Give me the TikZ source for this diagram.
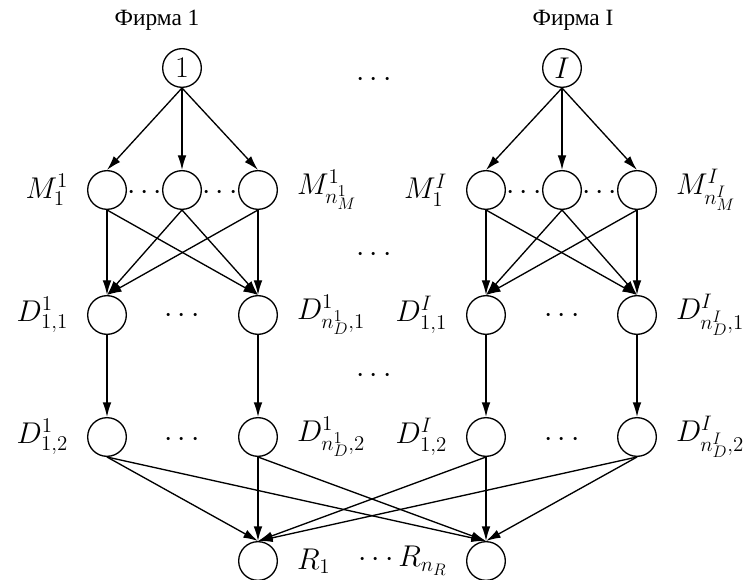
\RequirePackage{fix-cm}
\documentclass[tikz,border=0pt]{standalone}
\usepackage{fontspec}
\newfontfamily\firmfont{Liberation Serif}
\usetikzlibrary{arrows.meta,positioning}
\DeclareMathSizes{22.5}{22.5}{15.75}{12.5}

\tikzset{every picture/.style={line width=1pt}}
\tikzset{
  circ/.style={draw,circle,minimum size=29pt,inner sep=0pt,font=\fontsize{22.5}{26}\selectfont},
  lbl/.style={inner sep=0.75pt,font=\fontsize{22.5}{26}\selectfont},
  arr/.style={-{Latex[length=11pt,width=6.5pt]}}
}

\begin{document}
\begin{tikzpicture}[x=0.75pt,y=0.75pt,yscale=-1,xscale=1]
        \useasboundingbox (0,0) rectangle (748,580);
        % Text Node
        \node [inner sep=0.75pt,font=\firmfont\fontsize{17.5}{20}\selectfont] (t1) at (157,20) {Фирма 1};
        % Text Node
        \node [inner sep=0.75pt,font=\firmfont\fontsize{17.5}{20}\selectfont] (tI) at (573,20) {Фирма I};

        %Shape: Circle (firms)
        \node [circ] (f1) at (182,68) {$1$};
        \node [circ] (fI) at (562,68) {$I$};
        %Shape: Circle (row M)
        \node [circ] (m1a) at (107,190) {};
        \node [circ] (m1b) at (182,190) {};
        \node [circ] (m1c) at (258,190) {};
        \node [circ] (mIa) at (486,190) {};
        \node [circ] (mIb) at (562,190) {};
        \node [circ] (mIc) at (637,190) {};
        %Shape: Circle (row D, first)
        \node [circ] (d1a) at (107,315) {};
        \node [circ] (d1b) at (258,315) {};
        \node [circ] (dIa) at (486,315) {};
        \node [circ] (dIb) at (637,315) {};
        %Shape: Circle (row D, second)
        \node [circ] (e1a) at (107,437) {};
        \node [circ] (e1b) at (258,437) {};
        \node [circ] (eIa) at (486,437) {};
        \node [circ] (eIb) at (637,437) {};
        %Shape: Circle (row R)
        \node [circ] (r1) at (258,561) {};
        \node [circ] (rn) at (486,561) {};

        % Text Node (labels)
        \node [lbl, left=13pt of m1a] (lm1a) {$M^1_1$};
        \node [lbl, right=13pt of m1c] (lm1c) {$M^1_{n^1_M}$};
        \node [lbl, left=13pt of mIa] (lmIa) {$M^I_1$};
        \node [lbl, right=13pt of mIc] (lmIc) {$M^I_{n^I_M}$};
        \node [lbl, left=13pt of d1a] (ld1a) {$D^1_{1,1}$};
        \node [lbl, right=13pt of d1b] (ld1b) {$D^1_{n^1_D,1}$};
        \node [lbl, left=13pt of dIa] (ldIa) {$D^I_{1,1}$};
        \node [lbl, right=13pt of dIb] (ldIb) {$D^I_{n^I_D,1}$};
        \node [lbl, left=13pt of e1a] (le1a) {$D^1_{1,2}$};
        \node [lbl, right=13pt of e1b] (le1b) {$D^1_{n^1_D,2}$};
        \node [lbl, left=13pt of eIa] (leIa) {$D^I_{1,2}$};
        \node [lbl, right=13pt of eIb] (leIb) {$D^I_{n^I_D,2}$};
        \node [lbl, right=13pt of r1] (lr1) {$R_1$};
        \node [lbl, left=13pt of rn] (lrn) {$\cdots R_{n_R}$};

        % Text Node (dots)
        \node [lbl, inner sep=0pt] (dt1) at (374,80) {$\cdots$};
        \node [lbl, inner sep=0pt] (dt2) at (374,255) {$\cdots$};
        \node [lbl, inner sep=0pt] (dt3) at (374,376) {$\cdots$};
        \node [lbl, inner sep=0pt] (dm1a) at (144.5,193) {$\cdots$};
        \node [lbl, inner sep=0pt] (dm1b) at (220,193) {$\cdots$};
        \node [lbl, inner sep=0pt] (dmIa) at (524,193) {$\cdots$};
        \node [lbl, inner sep=0pt] (dmIb) at (599.5,193) {$\cdots$};
        \node [lbl, inner sep=0pt] (dd1) at (182,316) {$\cdots$};
        \node [lbl, inner sep=0pt] (ddI) at (562,316) {$\cdots$};
        \node [lbl, inner sep=0pt] (de1) at (182,440) {$\cdots$};
        \node [lbl, inner sep=0pt] (deI) at (562,440) {$\cdots$};

        %Straight Lines (firm 1)
        \draw [arr] (f1.south) -- (m1a.north);
        \draw [arr] (f1.south) -- (m1b.north);
        \draw [arr] (f1.south) -- (m1c.north);
        \draw [arr] (m1a.south) -- (d1a.north);
        \draw [arr] (m1a.south) -- (d1b.north);
        \draw [arr] (m1b.south) -- (d1a.north);
        \draw [arr] (m1b.south) -- (d1b.north);
        \draw [arr] (m1c.south) -- (d1a.north);
        \draw [arr] (m1c.south) -- (d1b.north);
        \draw [arr] (d1a.south) -- (e1a.north);
        \draw [arr] (d1b.south) -- (e1b.north);
        %Straight Lines (firm I)
        \draw [arr] (fI.south) -- (mIa.north);
        \draw [arr] (fI.south) -- (mIb.north);
        \draw [arr] (fI.south) -- (mIc.north);
        \draw [arr] (mIa.south) -- (dIa.north);
        \draw [arr] (mIa.south) -- (dIb.north);
        \draw [arr] (mIb.south) -- (dIa.north);
        \draw [arr] (mIb.south) -- (dIb.north);
        \draw [arr] (mIc.south) -- (dIa.north);
        \draw [arr] (mIc.south) -- (dIb.north);
        \draw [arr] (dIa.south) -- (eIa.north);
        \draw [arr] (dIb.south) -- (eIb.north);
        %Straight Lines (to R)
        \draw [arr] (e1a.south) -- (r1.north);
        \draw [arr] (e1a.south) -- (rn.north);
        \draw [arr] (e1b.south) -- (r1.north);
        \draw [arr] (e1b.south) -- (rn.north);
        \draw [arr] (eIa.south) -- (r1.north);
        \draw [arr] (eIa.south) -- (rn.north);
        \draw [arr] (eIb.south) -- (r1.north);
        \draw [arr] (eIb.south) -- (rn.north);
    \end{tikzpicture}
\end{document}
